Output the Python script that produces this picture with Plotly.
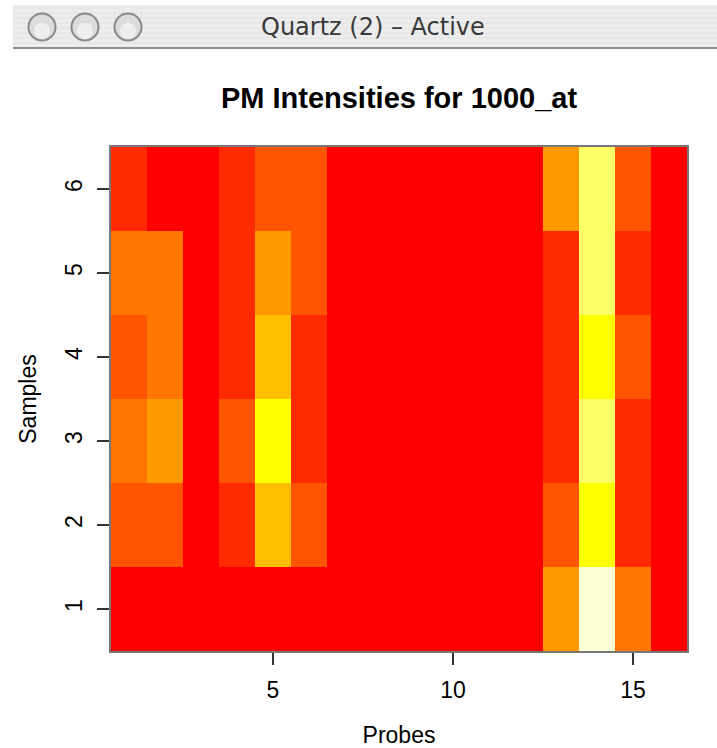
import plotly.graph_objects as go

# Probe / sample indices
probes = list(range(1, 17))
samples = list(range(1, 7))

# Intensity level per cell (rows = samples 1..6, columns = probes 1..16)
pm_level_s1 = [0, 0, 0, 0, 0, 0, 0, 0, 0, 0, 0, 0, 4, 8, 3, 0]
pm_level_s2 = [2, 2, 0, 1, 5, 2, 0, 0, 0, 0, 0, 0, 2, 6, 1, 0]
pm_level_s3 = [3, 4, 0, 2, 6, 1, 0, 0, 0, 0, 0, 0, 1, 7, 1, 0]
pm_level_s4 = [2, 3, 0, 1, 5, 1, 0, 0, 0, 0, 0, 0, 1, 6, 2, 0]
pm_level_s5 = [3, 3, 0, 1, 4, 2, 0, 0, 0, 0, 0, 0, 1, 7, 1, 0]
pm_level_s6 = [1, 0, 0, 1, 2, 2, 0, 0, 0, 0, 0, 0, 4, 7, 2, 0]

# heat-style palette (one colour per level)
heat_colors = ["#FF0000", "#FF2A00", "#FF5500", "#FF7700", "#FF9900",
               "#FFBF00", "#FFFF00", "#FFFF66", "#FFFFD5"]

x_ticks = [5, 10, 15]
y_ticks = [1, 2, 3, 4, 5, 6]

z = [pm_level_s1, pm_level_s2, pm_level_s3, pm_level_s4, pm_level_s5, pm_level_s6]

n = len(heat_colors)
colorscale = []
for i, c in enumerate(heat_colors):
    colorscale.append([i / n, c])
    colorscale.append([(i + 1) / n, c])

W, H = 717, 748
L, R, T, B = 111, 30, 147, 97
pw, ph = W - L - R, H - T - B


def px(X):
    return (X - L) / pw


def py(Y):
    return (H - B - Y) / ph


fig = go.Figure()
fig.add_trace(go.Heatmap(
    z=z, x=probes, y=samples,
    colorscale=colorscale, zmin=-0.5, zmax=n - 0.5,
    showscale=False, xgap=0, ygap=0, hoverinfo="skip",
))

shapes = []
# Window title bar
shapes.append(dict(type="rect", xref="paper", yref="paper",
                   x0=px(13), x1=px(717), y0=py(48), y1=py(5),
                   fillcolor="#EDEDED", line=dict(width=0), layer="above"))
for k in range(8):
    Yl = 8 + k * 5
    shapes.append(dict(type="line", xref="paper", yref="paper",
                       x0=px(13), x1=px(717), y0=py(Yl), y1=py(Yl),
                       line=dict(color="#E2E2E2", width=1), layer="above"))
shapes.append(dict(type="line", xref="paper", yref="paper",
                   x0=px(13), x1=px(717), y0=py(48), y1=py(48),
                   line=dict(color="#8E8E8E", width=2), layer="above"))
for cx in (42, 85, 128):
    r = 13.5
    shapes.append(dict(type="circle", xref="paper", yref="paper",
                       x0=px(cx - r), x1=px(cx + r), y0=py(27 + r), y1=py(27 - r),
                       fillcolor="#DCDCDC", line=dict(color="#8A8A8A", width=2),
                       layer="above"))
    r2 = 8
    shapes.append(dict(type="circle", xref="paper", yref="paper",
                       x0=px(cx - r2), x1=px(cx + r2), y0=py(31 + r2), y1=py(31 - r2),
                       fillcolor="#EFEFEF", line=dict(width=0), layer="above"))

axis_font = dict(family="Liberation Sans, Arial, sans-serif", size=23, color="black")

fig.update_layout(
    width=W, height=H,
    margin=dict(l=L, r=R, t=T, b=B, pad=0, autoexpand=False),
    paper_bgcolor="white", plot_bgcolor="white",
    shapes=shapes,
    title=dict(text="PM Intensities for 1000_at", x=px(399), xref="paper",
               xanchor="center", y=1 - 98 / H, yref="container", yanchor="middle",
               font=dict(family="Liberation Sans, Arial, sans-serif", size=29,
                         color="black", weight=700)),
    annotations=[dict(text="Quartz (2) – Active", xref="paper", yref="paper",
                      x=px(373), y=py(27), xanchor="center", yanchor="middle",
                      showarrow=False,
                      font=dict(family="DejaVu Sans", size=24, color="#3A3A3A"))],
    xaxis=dict(range=[0.5, 16.5], tickvals=x_ticks, ticktext=[str(v) for v in x_ticks],
               ticks="outside", ticklen=12, tickwidth=1.5, tickcolor="#333333",
               ticklabelstandoff=6, automargin=False,
               showline=True, linecolor="#777777", linewidth=1.5, mirror=True,
               showgrid=False, zeroline=False,
               tickfont=axis_font,
               title=dict(text="Probes", standoff=28, font=axis_font)),
    yaxis=dict(range=[0.5, 6.5], tickvals=y_ticks, ticktext=[str(v) for v in y_ticks],
               tickangle=-90,
               ticks="outside", ticklen=12, tickwidth=1.5, tickcolor="#333333",
               ticklabelstandoff=6, automargin=False,
               showline=True, linecolor="#777777", linewidth=1.5, mirror=True,
               showgrid=False, zeroline=False,
               tickfont=axis_font,
               title=dict(text="Samples", standoff=18, font=axis_font)),
)

fig.write_html("out.html", config={"displayModeBar": False},
               post_script="document.body.style.margin='0';")
